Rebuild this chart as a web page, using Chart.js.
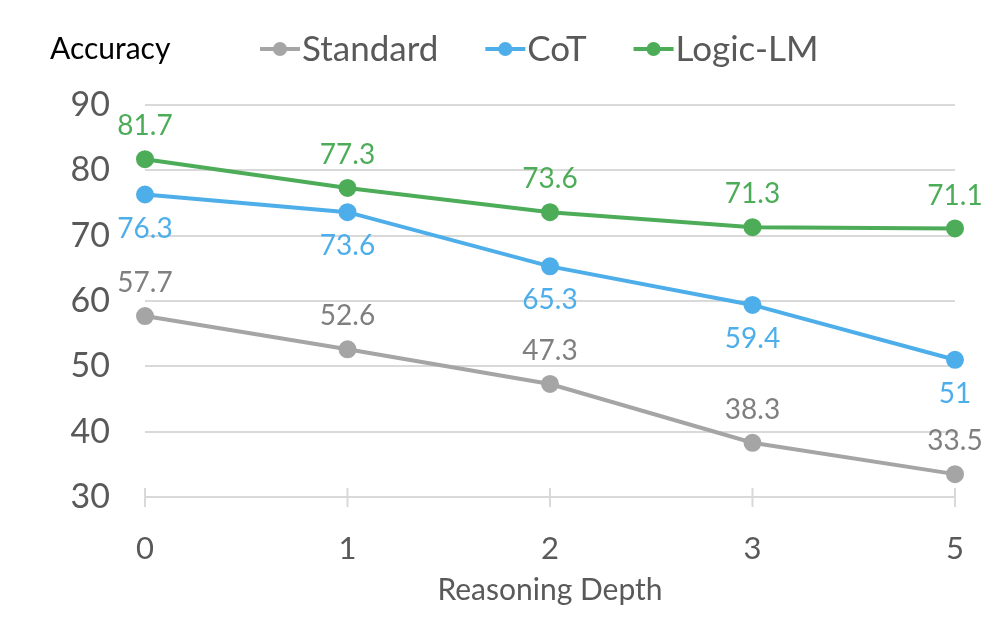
<!DOCTYPE html>
<html>
<head>
<meta charset="utf-8">
<script src="https://cdn.jsdelivr.net/npm/chart.js@4.4.1/dist/chart.umd.min.js"></script>
<style>
  html, body { margin: 0; padding: 0; background: #fff; }
  #wrap { width: 1004px; height: 634px; }
</style>
</head>
<body>
<div id="wrap"><canvas id="accChart" width="1004" height="634"></canvas></div>
<script>
const depths = ['0', '1', '2', '3', '5'];
const standardAcc = [57.7, 52.6, 47.3, 38.3, 33.5];
const cotAcc = [76.3, 73.6, 65.3, 59.4, 51];
const logicLmAcc = [81.7, 77.3, 73.6, 71.3, 71.1];
const yTicks = [30, 40, 50, 60, 70, 80, 90];

const FONT = 'Lato, "Noto Sans", sans-serif';
const grey = '#A5A5A5';
const blue = '#4DAEEA';
const green = '#4DAC58';

// data labels + legend drawn by hand (no datalabels plugin available)
const labelPlugin = {
    id: 'labels',
    afterDatasetsDraw(chart) {
        const ctx = chart.ctx;
        ctx.save();
        ctx.textAlign = 'center';
        ctx.textBaseline = 'middle';
        ctx.font = '28px ' + FONT;
        chart.data.datasets.forEach((ds, i) => {
            const meta = chart.getDatasetMeta(i);
            ctx.fillStyle = ds.labelColor;
            meta.data.forEach((pt, j) => {
                const dy = ds.labelBelow ? 34 : -33;
                ctx.fillText(String(ds.data[j]), pt.x, pt.y + dy);
            });
        });

        // y axis caption
        ctx.textAlign = 'left';
        ctx.fillStyle = '#000';
        ctx.font = '30px ' + FONT;
        ctx.fillText('Accuracy', 50, 49);

        // legend
        ctx.font = '35px ' + FONT;
        let x = 260;
        chart.data.datasets.forEach((ds) => {
            ctx.strokeStyle = ds.borderColor;
            ctx.fillStyle = ds.borderColor;
            ctx.lineWidth = 4;
            ctx.beginPath();
            ctx.moveTo(x, 49);
            ctx.lineTo(x + 40, 49);
            ctx.stroke();
            ctx.beginPath();
            ctx.arc(x + 20, 49, 7, 0, Math.PI * 2);
            ctx.fill();
            ctx.fillStyle = '#595959';
            ctx.fillText(ds.label, x + 42, 50);
            x += 42 + ctx.measureText(ds.label).width + 47;
        });
        ctx.restore();
    },
    afterDraw(chart) {
        // small tick marks crossing the x axis
        const ctx = chart.ctx;
        const xs = chart.scales.x;
        const yb = chart.chartArea.bottom;
        ctx.save();
        ctx.strokeStyle = '#D9D9D9';
        ctx.lineWidth = 2;
        depths.forEach((d, i) => {
            const px = xs.getPixelForValue(i);
            ctx.beginPath();
            ctx.moveTo(px, yb - 9);
            ctx.lineTo(px, yb + 10);
            ctx.stroke();
        });
        ctx.restore();
    }
};

function series(label, data, color, labelColor, below) {
    return {
        label: label,
        data: data,
        borderColor: color,
        backgroundColor: color,
        pointBackgroundColor: color,
        pointBorderColor: color,
        borderWidth: 4,
        pointRadius: 7,
        pointHoverRadius: 7,
        tension: 0,
        labelColor: labelColor,
        labelBelow: below
    };
}

const ctx = document.getElementById('accChart').getContext('2d');
const accChart = new Chart(ctx, {
    type: 'line',
    data: {
        labels: depths,
        datasets: [
            series('Standard', standardAcc, grey, '#7F7F7F', false),
            series('CoT', cotAcc, blue, blue, true),
            series('Logic-LM', logicLmAcc, green, green, false)
        ]
    },
    options: {
        responsive: false,
        animation: false,
        layout: { padding: { top: 105, right: 49, left: 0, bottom: 0 } },
        plugins: {
            legend: { display: false },
            tooltip: { enabled: false }
        },
        scales: {
            x: {
                offset: false,
                grid: { display: false },
                border: { display: true, color: '#D9D9D9', width: 2 },
                ticks: { color: '#595959', font: { family: FONT, size: 31 }, padding: 25 },
                title: {
                    display: true,
                    text: 'Reasoning Depth',
                    color: '#595959',
                    font: { family: FONT, size: 30 },
                    padding: { top: 2, bottom: 26 }
                },
                afterFit: (s) => { s.height = 137; }
            },
            y: {
                min: 30,
                max: 90,
                afterBuildTicks: (s) => { s.ticks = yTicks.map(v => ({ value: v })); },
                grid: { color: '#D9D9D9', lineWidth: 2, drawTicks: false },
                border: { display: false },
                ticks: { color: '#595959', font: { family: FONT, size: 34 }, padding: 35 },
                afterFit: (s) => { s.width = 145; }
            }
        }
    },
    plugins: [labelPlugin]
});
</script>
</body>
</html>
